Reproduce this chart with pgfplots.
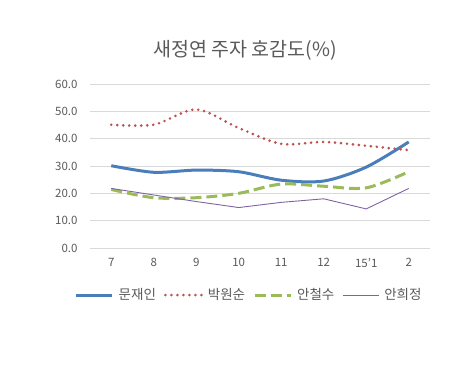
\documentclass[border=0pt]{standalone}
\usepackage{pgfplots}
\pgfplotsset{compat=1.18}
\usepackage{fontspec}
\setmainfont{Noto Sans CJK KR}
\definecolor{txt}{HTML}{595959}
\definecolor{grd}{HTML}{D9D9D9}
\definecolor{cblue}{HTML}{4A7EBB}
\definecolor{cred}{HTML}{C0504D}
\definecolor{cgreen}{HTML}{9BBB59}
\definecolor{cpurp}{HTML}{8064A2}
\begin{document}
\begin{tikzpicture}
\useasboundingbox (0pt,0pt) rectangle (467pt,365pt);
\node[text=txt,font=\fontsize{19.5}{24}\selectfont] at (245pt,315pt) {새정연 주자 호감도(\%)};
\begin{axis}[
  at={(90pt,117pt)}, anchor=south west,
  scale only axis, width=340pt, height=164pt,
  xmin=-0.5, xmax=7.5, ymin=0, ymax=60,
  xtick={0,1,2,3,4,5,6,7},
  xticklabels={7,8,9,10,11,12,15'1,2},
  ytick={0,10,20,30,40,50,60},
  yticklabel={\pgfmathprintnumber[fixed,fixed zerofill,precision=1]{\tick}},
  /pgf/number format/assume math mode=true,
  ticklabel style={font=\fontsize{11.5}{13}\selectfont, text=txt},
  yticklabel style={xshift=-9pt},
  xticklabel style={yshift=-7pt},
  major tick length=0pt,
  axis line style={draw=none},
  ymajorgrids, grid style={grd, line width=0.8pt},
  legend columns=4,
  legend style={at={(0.468,-0.287)}, anchor=center, draw=none, fill=none,
    font=\fontsize{13.5}{16}\selectfont, text=txt, inner xsep=0pt,
    nodes={inner xsep=2pt},
    /tikz/every even column/.append style={column sep=6pt},
    /tikz/every odd column/.append style={column sep=3pt}},
  legend image code/.code={\draw[#1] (0pt,0pt) -- (36pt,0pt);},
]
\addplot[cblue, line width=3pt, smooth] coordinates {(0,30.1) (1,27.7) (2,28.5) (3,27.9) (4,24.8) (5,24.5) (6,29.6) (7,38.8)};
\addlegendentry{문재인}
\addplot[cred, line width=2.9pt, line cap=round, dash pattern=on 0pt off 6pt, smooth] coordinates {(0,45.1) (1,45.1) (2,50.7) (3,43.9) (4,38.1) (5,38.8) (6,37.4) (7,35.8)};
\addlegendentry{박원순}
\addplot[cgreen, line width=3pt, dash pattern=on 11pt off 5pt, smooth] coordinates {(0,21.4) (1,18.4) (2,18.4) (3,20.0) (4,23.4) (5,22.6) (6,22.0) (7,27.9)};
\addlegendentry{안철수}
\addplot[cpurp, line width=0.9pt] coordinates {(0,21.8) (1,19.4) (2,17.0) (3,14.8) (4,16.7) (5,18.0) (6,14.3) (7,21.8)};
\addlegendentry{안희정}
\end{axis}
\end{tikzpicture}
\end{document}
